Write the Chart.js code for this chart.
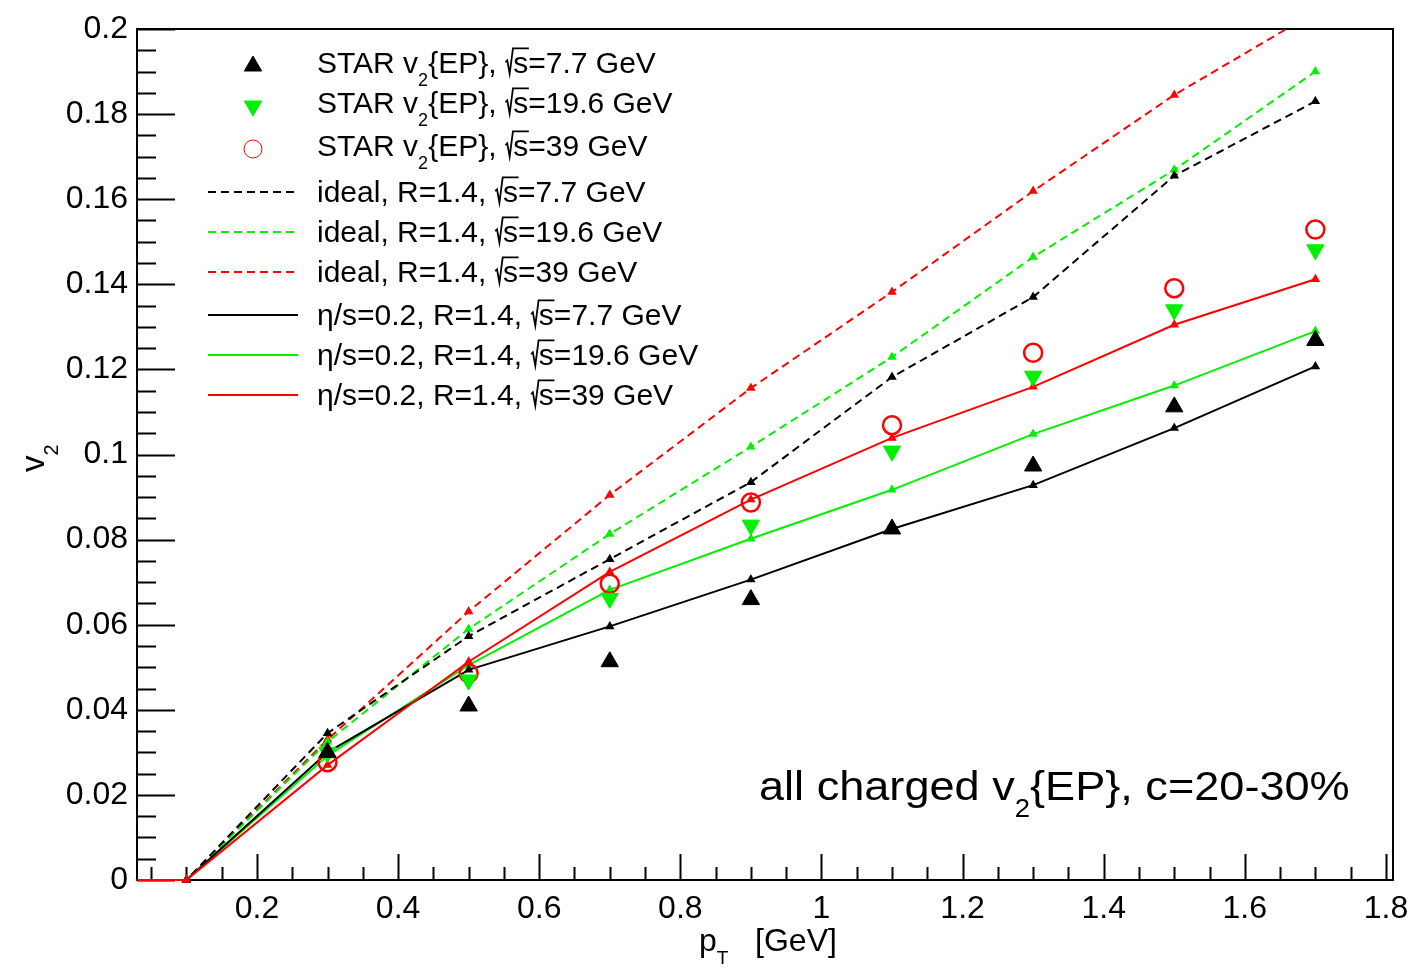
<!DOCTYPE html>
<html>
<head>
<meta charset="utf-8">
<title>v2 vs pT</title>
<script src="https://cdn.jsdelivr.net/npm/chart.js@4.4.1/dist/chart.umd.min.js"></script>
<style>
  html, body { margin: 0; padding: 0; background: #fff; }
  #wrap { width: 1408px; height: 968px; }
</style>
</head>
<body>
<div id="wrap"><canvas id="v2-chart" width="1408" height="968"></canvas></div>
<script>
// pT points (GeV)
const ptModel = [0, 0.1, 0.3, 0.5, 0.7, 0.9, 1.1, 1.3, 1.5, 1.7];
const ptStar = [0.3, 0.5, 0.7, 0.9, 1.1, 1.3, 1.5, 1.7];

// ideal hydro, R=1.4
const ideal77 = [0, 0, 0.0345, 0.0573, 0.0754, 0.0935, 0.1182, 0.1370, 0.1655, 0.1830];
const ideal196 = [0, 0, 0.0325, 0.0590, 0.0813, 0.1018, 0.1229, 0.1464, 0.1669, 0.1900];
const ideal39 = [0, 0, 0.0330, 0.0631, 0.0905, 0.1156, 0.1382, 0.1619, 0.1845, 0.2040];

// viscous hydro, eta/s=0.2, R=1.4
const visc77 = [0, 0, 0.0300, 0.0494, 0.0596, 0.0706, 0.0825, 0.0928, 0.1062, 0.1207];
const visc196 = [0, 0, 0.0292, 0.0505, 0.0682, 0.0802, 0.0917, 0.1048, 0.1162, 0.1290];
const visc39 = [0, 0, 0.0270, 0.0513, 0.0724, 0.0894, 0.1039, 0.1159, 0.1305, 0.1412];

// STAR v2{EP} data
const star77 = [0.0300, 0.0409, 0.0513, 0.0659, 0.0825, 0.0973, 0.1112, 0.1268];
const star196 = [0.0300, 0.0470, 0.0662, 0.0834, 0.1008, 0.1184, 0.1340, 0.1481];
const star39 = [0.0277, 0.0486, 0.0696, 0.0887, 0.1069, 0.1239, 0.1391, 0.1529];

// axis ticks
const xTicks = [0.2, 0.4, 0.6, 0.8, 1.0, 1.2, 1.4, 1.6, 1.8];
const yTicks = [0, 0.02, 0.04, 0.06, 0.08, 0.1, 0.12, 0.14, 0.16, 0.18, 0.2];

const FONT = '"Liberation Sans", Arial, sans-serif';
const BLACK = '#000000', GREEN = '#00f000', RED = '#ff0000';
const DASH = [8, 5];

function pts(xs, ys) {
    return xs.map((x, i) => ({ x: x, y: ys[i] }));
}

function starSet(label, ys, color, style, rot, fill) {
    return {
        label: label, data: pts(ptStar, ys), showLine: false, order: 0,
        pointStyle: style, pointRotation: rot, pointRadius: style === 'circle' ? 9 : 10,
        pointBackgroundColor: fill, pointBorderColor: color, pointBorderWidth: style === 'circle' ? 2.5 : 1,
        clip: { left: 0, top: 0, right: 0, bottom: 12 }
    };
}

function modelSet(label, ys, color, dashed, order) {
    return {
        label: label, data: pts(ptModel, ys), showLine: true, order: order,
        borderColor: color, borderWidth: 2, borderDash: dashed ? DASH : [],
        pointStyle: 'triangle', pointRadius: 4, pointBorderWidth: 1.5,
        pointBackgroundColor: color, pointBorderColor: color,
        clip: { left: 0, top: 0, right: 0, bottom: 12 }
    };
}

const datasets = [
    starSet('STAR v_{2}{EP}, #sqrt{s}=7.7 GeV', star77, BLACK, 'triangle', 0, BLACK),
    starSet('STAR v_{2}{EP}, #sqrt{s}=19.6 GeV', star196, GREEN, 'triangle', 180, GREEN),
    starSet('STAR v_{2}{EP}, #sqrt{s}=39 GeV', star39, RED, 'circle', 0, 'rgba(0,0,0,0)'),
    modelSet('ideal, R=1.4, #sqrt{s}=7.7 GeV', ideal77, BLACK, true, 4),
    modelSet('ideal, R=1.4, #sqrt{s}=19.6 GeV', ideal196, GREEN, true, 4),
    modelSet('ideal, R=1.4, #sqrt{s}=39 GeV', ideal39, RED, true, 4),
    modelSet('\u03b7/s=0.2, R=1.4, #sqrt{s}=7.7 GeV', visc77, BLACK, false, 2),
    modelSet('\u03b7/s=0.2, R=1.4, #sqrt{s}=19.6 GeV', visc196, GREEN, false, 2),
    modelSet('\u03b7/s=0.2, R=1.4, #sqrt{s}=39 GeV', visc39, RED, false, 1)
];

// draws a ROOT-like latex string: v_{2}, #sqrt{s}
function drawLatex(ctx, str, x, y, size) {
    const parts = str.split(/(_\{[^}]*\}|#sqrt\{[^}]*\})/).filter(s => s);
    const main = size + 'px ' + FONT;
    const small = Math.round(size * 0.6) + 'px ' + FONT;
    ctx.textAlign = 'left';
    ctx.textBaseline = 'alphabetic';
    for (const p of parts) {
        if (p.startsWith('_{')) {
            const t = p.slice(2, -1);
            ctx.font = small;
            ctx.fillText(t, x, y + size * 0.42);
            x += ctx.measureText(t).width;
        } else if (p.startsWith('#sqrt{')) {
            const t = p.slice(6, -1);
            ctx.font = main;
            const w = ctx.measureText(t).width;
            ctx.save();
            ctx.lineWidth = Math.max(1.5, size * 0.06);
            ctx.beginPath();
            ctx.moveTo(x + size * 0.02, y - size * 0.36);
            ctx.lineTo(x + size * 0.08, y - size * 0.42);
            ctx.lineTo(x + size * 0.16, y + size * 0.02);
            ctx.lineTo(x + size * 0.27, y - size * 0.82);
            ctx.lineTo(x + size * 0.30 + w, y - size * 0.82);
            ctx.stroke();
            ctx.restore();
            ctx.fillText(t, x + size * 0.28, y);
            x += size * 0.28 + w;
        } else {
            ctx.font = main;
            ctx.fillText(p, x, y);
            x += ctx.measureText(p).width;
        }
    }
    return x;
}

// frame and inward tick marks like ROOT
const rootFrame = {
    id: 'rootFrame',
    beforeDatasetsDraw(chart) {
        const { ctx, chartArea: a, scales: { x, y } } = chart;
        ctx.save();
        ctx.strokeStyle = BLACK;
        ctx.lineWidth = 2;
        ctx.strokeRect(a.left, a.top, a.right - a.left, a.bottom - a.top);
        ctx.beginPath();
        for (let i = 0; i <= 40; i++) {
            const py = Math.round(y.getPixelForValue(i * 0.005)) + 0.5;
            const len = i % 4 === 0 ? 38 : 19;
            ctx.moveTo(a.left, py);
            ctx.lineTo(a.left + len, py);
        }
        for (let i = 1; i <= 36; i++) {
            const v = i * 0.05;
            if (v < x.min || v > x.max) continue;
            const px = Math.round(x.getPixelForValue(v)) + 0.5;
            const len = i % 4 === 0 ? 26 : 13;
            ctx.moveTo(px, a.bottom);
            ctx.lineTo(px, a.bottom - len);
        }
        ctx.stroke();
        ctx.restore();
    },
    afterDraw(chart) {
        const ctx = chart.ctx;
        const ds = chart.data.datasets;
        const rowY = [62, 102, 145, 191, 231, 271, 314, 354, 394];
        ctx.save();
        ctx.fillStyle = BLACK;
        ds.forEach((d, i) => {
            const cy = rowY[i];
            ctx.save();
            if (d.showLine) {
                ctx.strokeStyle = d.borderColor;
                ctx.lineWidth = 2;
                ctx.setLineDash(d.borderDash);
                ctx.beginPath();
                ctx.moveTo(208, cy + 1);
                ctx.lineTo(298, cy + 1);
                ctx.stroke();
            } else {
                ctx.fillStyle = d.pointBackgroundColor;
                ctx.strokeStyle = d.pointBorderColor;
                Chart.helpers.drawPoint(ctx, {
                    pointStyle: d.pointStyle, radius: d.pointRadius,
                    rotation: d.pointRotation, borderWidth: d.pointBorderWidth
                }, 253, cy + 4);
            }
            ctx.restore();
            ctx.fillStyle = BLACK;
            drawLatex(ctx, d.label, 317, cy + 11, 30);
        });

        // caption, a little wider than plain Liberation Sans
        ctx.save();
        ctx.translate(759, 800);
        ctx.scale(1.1, 1);
        drawLatex(ctx, 'all charged v_{2}{EP}, c=20-30%', 0, 0, 41);
        ctx.restore();

        drawLatex(ctx, 'p_{T}   [GeV]', 699, 951, 32);

        ctx.save();
        ctx.translate(44, 472);
        ctx.rotate(-Math.PI / 2);
        drawLatex(ctx, 'v_{2}', 0, 0, 33);
        ctx.restore();
        ctx.restore();
    }
};

new Chart(document.getElementById('v2-chart'), {
    type: 'scatter',
    data: { datasets: datasets },
    plugins: [rootFrame],
    options: {
        responsive: false,
        animation: false,
        events: [],
        layout: { padding: { left: 0, top: 29, right: 15, bottom: 0 } },
        plugins: { legend: { display: false }, tooltip: { enabled: false } },
        scales: {
            x: {
                type: 'linear', min: 0.03, max: 1.81,
                afterFit: s => { s.height = 88; s.paddingLeft = 0; s.paddingRight = 0; },
                afterBuildTicks: s => { s.ticks = xTicks.map(v => ({ value: v })); },
                grid: { display: false, drawTicks: false },
                border: { display: false },
                ticks: {
                    padding: 10, color: BLACK, maxRotation: 0,
                    font: { family: FONT, size: 32 },
                    callback: v => String(Number(v.toFixed(1)))
                }
            },
            y: {
                type: 'linear', min: 0, max: 0.2,
                afterFit: s => { s.width = 137; s.paddingTop = 0; s.paddingBottom = 0; },
                afterBuildTicks: s => { s.ticks = yTicks.map(v => ({ value: v })); },
                grid: { display: false, drawTicks: false },
                border: { display: false },
                ticks: {
                    padding: 9, color: BLACK,
                    font: { family: FONT, size: 32 },
                    callback: v => String(Number(v.toFixed(2)))
                }
            }
        }
    }
});
</script>
</body>
</html>
